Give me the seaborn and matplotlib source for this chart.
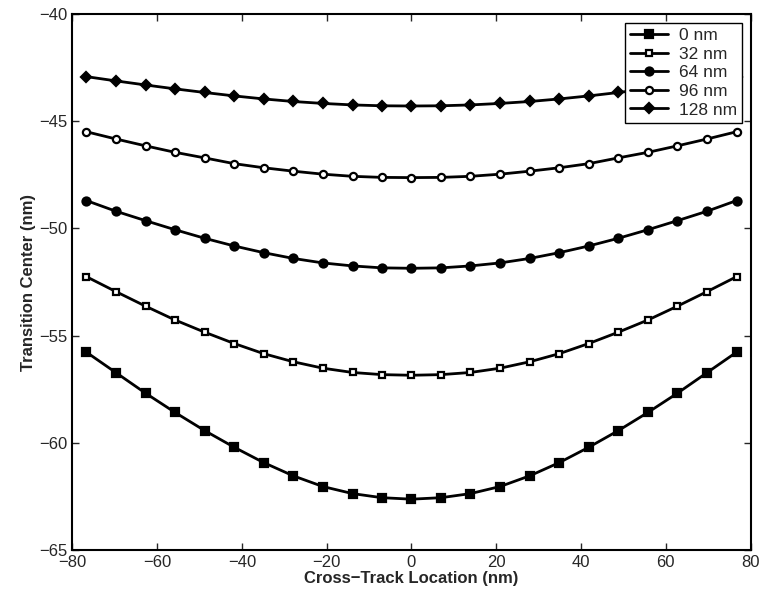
import numpy as np
import pandas as pd
import seaborn as sns
import matplotlib.pyplot as plt

# cross-track positions (nm)
x_pos = [-76.7, -69.7, -62.7, -55.8, -48.8, -41.8, -34.9, -27.9, -20.9, -13.9, -7.0, 0.0,
         7.0, 13.9, 20.9, 27.9, 34.9, 41.8, 48.8, 55.8, 62.7, 69.7, 76.7]

center_0 = [-55.77, -56.73, -57.69, -58.58, -59.43, -60.21, -60.92, -61.54, -62.04, -62.37, -62.56, -62.63,
            -62.56, -62.37, -62.04, -61.54, -60.92, -60.21, -59.43, -58.58, -57.69, -56.73, -55.77]
center_32 = [-52.25, -52.95, -53.63, -54.27, -54.84, -55.37, -55.84, -56.22, -56.52, -56.72, -56.82, -56.85,
             -56.82, -56.72, -56.52, -56.22, -55.84, -55.37, -54.84, -54.27, -53.63, -52.95, -52.25]
center_64 = [-48.70, -49.20, -49.64, -50.06, -50.46, -50.82, -51.13, -51.40, -51.61, -51.75, -51.84, -51.86,
             -51.84, -51.75, -51.61, -51.40, -51.13, -50.82, -50.46, -50.06, -49.64, -49.20, -48.70]
center_96 = [-45.49, -45.83, -46.15, -46.45, -46.71, -46.98, -47.17, -47.33, -47.47, -47.57, -47.62, -47.63,
             -47.62, -47.57, -47.47, -47.33, -47.17, -46.98, -46.71, -46.45, -46.15, -45.83, -45.49]
center_128 = [-42.92, -43.12, -43.31, -43.49, -43.66, -43.82, -43.96, -44.08, -44.17, -44.24, -44.28, -44.29,
              -44.28, -44.24, -44.17, -44.08, -43.96, -43.82, -43.66, -43.49, -43.31, -43.12, -42.92]

labels = ['0 nm', '32 nm', '64 nm', '96 nm', '128 nm']
series = [center_0, center_32, center_64, center_96, center_128]
markers = ['s', 's', 'o', 'o', 'D']
faces = ['black', 'white', 'black', 'white', 'black']
sizes = [5.2, 4.3, 5.8, 5.2, 5.6]

df = pd.concat([pd.DataFrame({'x': x_pos, 'y': s, 'label': l}) for s, l in zip(series, labels)])

sns.set_style("ticks")
plt.rcParams['font.family'] = ['Liberation Sans', 'DejaVu Sans']
plt.rcParams['xtick.direction'] = 'in'
plt.rcParams['ytick.direction'] = 'in'

fig = plt.figure(figsize=(7.63, 6.02), dpi=100)
ax = fig.add_axes([0.0948, 0.0864, 0.889, 0.8903])

for lab, m, fc, ms in zip(labels, markers, faces, sizes):
    sns.lineplot(data=df[df['label'] == lab], x='x', y='y', ax=ax, color='black',
                 linewidth=2, marker=m, markersize=ms, markerfacecolor=fc,
                 markeredgecolor='black', markeredgewidth=1.6, label=lab)

ax.set_xlim(-80, 80)
ax.set_ylim(-65, -40)
ax.set_xticks(np.arange(-80, 81, 20))
ax.set_yticks(np.arange(-65, -39, 5))
ax.tick_params(axis='both', labelsize=12, length=5, width=1, top=True, right=True)
for sp in ax.spines.values():
    sp.set_linewidth(1.5)
    sp.set_color('black')

ax.set_xlabel('Cross\u2212Track Location (nm)', fontsize=12, fontweight='bold', labelpad=1)
ax.set_ylabel('Transition Center (nm)', fontsize=12, fontweight='bold', labelpad=2)

leg = ax.legend(loc='upper right', fancybox=False, edgecolor='black', framealpha=1,
                fontsize=12.5, handlelength=2.2, borderpad=0.3, labelspacing=0.2,
                handletextpad=0.6, borderaxespad=0.5)
leg.get_frame().set_linewidth(1.0)

fig.savefig('out.png', dpi=100)
